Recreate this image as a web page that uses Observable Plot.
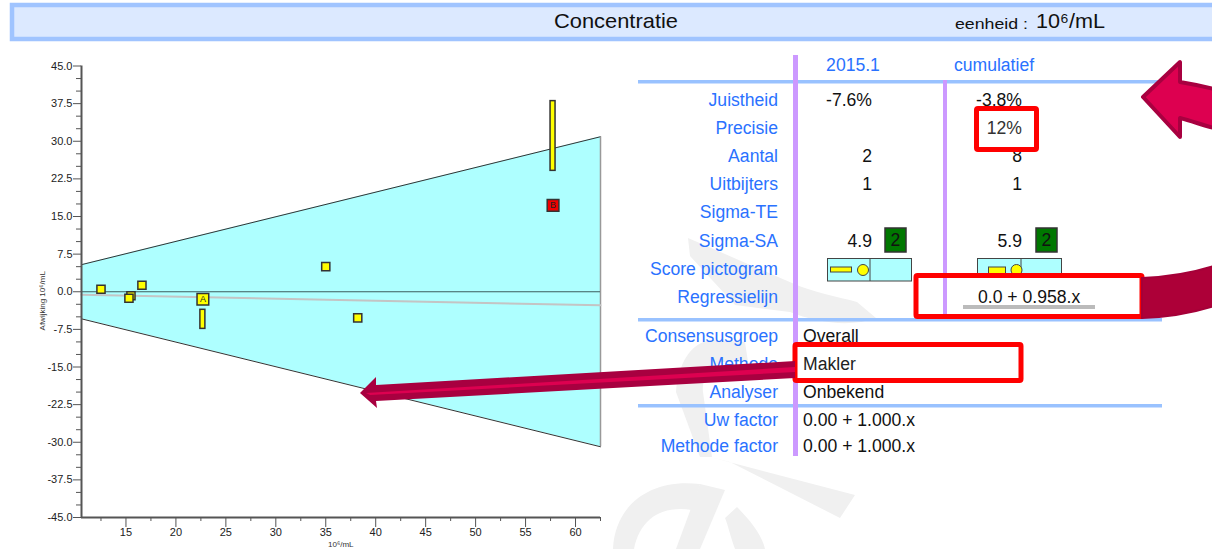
<!DOCTYPE html>
<html><head><meta charset="utf-8">
<style>html,body{margin:0;padding:0;background:#fff;overflow:hidden}</style>
<script src="https://cdn.jsdelivr.net/npm/d3@7"></script>
<script src="https://cdn.jsdelivr.net/npm/@observablehq/plot@0.6"></script>
</head><body><div id="chart"></div>
<script>
// ---- chart data ----
const bandX = [10.55, 62.5];
const bandUpper = [5.4, 30.9];
const bandLower = [-5.4, -30.9];
const regrY = [-0.6, -2.7];
const pointX = [12.5, 15.5, 15.3, 16.6, 35, 38.2];
const pointY = [0.5, -0.8, -1.3, 1.3, 5, -5.2];
const barX = [22.7, 57.75];
const barLow = [-7.4, 24.1];
const barHigh = [-3.6, 38];
const labelled = ["A", "B"];
const labelledX = [22.7, 57.75];
const labelledY = [-1.5, 17.2];
const labelledFill = ["#ffff00", "#f00000"];
const yMajor = [-45, -37.5, -30, -22.5, -15, -7.5, 0, 7.5, 15, 22.5, 30, 37.5, 45];
const yMinor = [-42.5,-40,-35,-32.5,-27.5,-25,-20,-17.5,-12.5,-10,-5,-2.5,2.5,5,10,12.5,17.5,20,25,27.5,32.5,35,40,42.5];
const xMajor = [15, 20, 25, 30, 35, 40, 45, 50, 55, 60];
const xMinor = [12.5, 17.5, 22.5, 27.5, 32.5, 37.5, 42.5, 47.5, 52.5, 57.5, 62.5];
// ---- table data ----
const rowLabels = ["Juistheid","Precisie","Aantal","Uitbijters","Sigma-TE","Sigma-SA","Score pictogram","Regressielijn","Consensusgroep","Methode","Analyser","Uw factor","Methode factor"];
const colPeriod = ["-7.6%","","2","1","","4.9","","",];
const colCumul  = ["-3.8%","12%","8","1","","5.9","","0.0 + 0.958.x"];
const colInfo   = ["Overall","Makler","Onbekend","0.00 + 1.000.x","0.00 + 1.000.x"];
const headers = ["2015.1","cumulatief"];
const sigmaScore = ["2","2"];

const band = bandX.map((x,i)=>({x, hi:bandUpper[i], lo:bandLower[i], r:regrY[i]}));
const pts = pointX.map((x,i)=>({x, y:pointY[i]}));
const bars = barX.map((x,i)=>({x, lo:barLow[i], hi:barHigh[i]}));
const labs = labelled.map((t,i)=>({t, x:labelledX[i], y:labelledY[i], f:labelledFill[i]}));
const ink = "#333", axis = "#555";

const plot = Plot.plot({
  width:1212, height:549, marginLeft:81, marginRight:612, marginTop:65.5, marginBottom:32,
  style:{fontFamily:"'Liberation Sans',Arial,sans-serif", background:"transparent"},
  x:{domain:[bandX[0],62.5]}, y:{domain:[-45,45]},
  marks:[
    Plot.areaY(band,{x:"x",y1:"lo",y2:"hi",fill:"#aeffff"}),
    Plot.line(band,{x:"x",y:"hi",stroke:ink,strokeWidth:1}),
    Plot.line(band,{x:"x",y:"lo",stroke:ink,strokeWidth:1}),
    Plot.ruleX([bandX[1]],{y1:bandLower[1],y2:bandUpper[1],stroke:"#999",strokeWidth:1.5}),
    Plot.ruleY([0],{stroke:"#3c5c5c",strokeWidth:1}),
    Plot.line(band,{x:"x",y:"r",stroke:"#c4c4c4",strokeWidth:2}),
    Plot.axisY({ticks:yMinor,tickSize:5,tickFormat:()=>"",label:null,stroke:axis}),
    Plot.axisY({ticks:yMajor,tickSize:8,tickPadding:1,tickFormat:d=>d.toFixed(1),label:null,stroke:axis,fontSize:11,fill:"#222",letterSpacing:-0.7}),
    Plot.axisX({ticks:xMinor,tickSize:4,tickFormat:()=>"",label:null,stroke:axis}),
    Plot.axisX({ticks:xMajor,tickSize:10,tickPadding:1,tickFormat:d=>String(d),label:null,stroke:axis,fontSize:11,fill:"#222",letterSpacing:-0.5}),
    Plot.ruleX([bandX[0]],{stroke:axis,strokeWidth:2}),
    Plot.ruleY([-45],{stroke:axis,strokeWidth:2}),
    Plot.text(["Afwijking 10⁶/mL"],{x:bandX[0],y:-1.8,dx:-39.5,rotate:-90,fontSize:8,fill:"#333"}),
    Plot.text(["10⁶/mL"],{x:36.5,y:-45,dy:26.5,fontSize:8,fill:"#333"}),
    Plot.rect(bars,{x1:d=>d.x-0.25,x2:d=>d.x+0.25,y1:"lo",y2:"hi",fill:"#ffff00",stroke:ink,strokeWidth:1.5}),
    Plot.dot(pts,{x:"x",y:"y",symbol:"square",r:4.6,fill:"#ffff00",stroke:ink,strokeWidth:1.5}),
    Plot.dot(labs,{x:"x",y:"y",symbol:"square",r:6.6,fill:"f",stroke:ink,strokeWidth:1.5}),
    Plot.text(labs,{x:"x",y:"y",text:"t",fontSize:9,fill:"#222"})
  ]
});
document.getElementById("chart").appendChild(plot);

// ---- page furniture around the chart ----
const svg = d3.select(plot);
const F = "'Liberation Sans',Arial,sans-serif";
// faint watermark behind everything
const wm = svg.insert("g",":first-child").attr("fill","#f0f0f0");
[
 "M688,238 L792,283 C815,293 835,296 857,302 L876,318 C850,328 815,322 790,312 L735,305 L690,256 Z",
 "M676,392 C678,365 690,342 712,340 L745,342 L748,362 L722,362 C708,366 702,380 703,392 L712,457 L700,457 Z",
 "M710,457 L855,495 L840,518 L730,462 Z",
 "M613,549 C615,505 650,478 700,484 L692,510 C660,505 640,520 634,549 Z",
 "M700,484 L725,490 L700,549 L676,549 Z",
 "M737,507 C750,520 762,535 765,549 L735,549 C730,535 728,525 725,518 Z"
].forEach(d=>wm.append("path").attr("d",d));

const g = svg.append("g").attr("font-family",F);
function rect(x,y,w,h,fill,extra={}){const r=g.append("rect").attr("x",x).attr("y",y).attr("width",w).attr("height",h).attr("fill",fill);for(const k in extra)r.attr(k,extra[k]);return r;}
function text(x,y,s,opt={}){const t=g.append("text").attr("x",x).attr("y",y).attr("font-size",opt.size||17.6).attr("fill",opt.fill||"#111").attr("text-anchor",opt.anchor||"start").text(s);if(opt.len)t.attr("textLength",opt.len).attr("lengthAdjust","spacingAndGlyphs");return t;}

// header
rect(12,5,1210,34,"#dce9ff",{stroke:"#a0c4ff","stroke-width":4.5});
text(616,28,"Concentratie",{size:21,anchor:"middle",len:124});
text(955,29,"eenheid :",{size:15,len:73});
text(1036,28,"10⁶/mL",{size:21,len:69});

const blue="#2a72ff", lilac="#cc99ff", rule="#99c2ff";
const rowY=[106,134,162,190,218,247,275,303,342,370,398,426,452];
// rules
rect(638,80,522,3.5,rule); rect(638,318,524,3.5,rule); rect(638,404,524,3.5,rule);
rect(793,55,5,401,lilac);
rect(943,80,4,238,lilac);
// headers
text(853,71,headers[0],{fill:blue,anchor:"middle"});
text(994,71,headers[1],{fill:blue,anchor:"middle"});
// labels and values
rowLabels.forEach((s,i)=>text(778,rowY[i],s,{fill:blue,anchor:"end"}));
colPeriod.forEach((s,i)=>{if(s)text(872,rowY[i],s,{anchor:"end"});});
colCumul.forEach((s,i)=>{if(s&&i<7&&i!=1)text(1022,rowY[i],s,{anchor:"end"});});
colInfo.forEach((s,i)=>{if(i!=1)text(803,rowY[8+i],s);});
// sigma boxes
[[885,0],[1036,1]].forEach(([x,i])=>{rect(x,228,21,24,"#007700",{stroke:"#333","stroke-width":1.5});text(x+10.5,246,sigmaScore[i],{anchor:"middle",fill:"#111"});});
// pictograms
function picto(x,w,div,bx,bw,by,bh,cx){
  rect(x,258.5,w,22.5,"#aeffff",{stroke:"#444","stroke-width":1});
  g.append("line").attr("x1",div).attr("x2",div).attr("y1",258.5).attr("y2",281).attr("stroke","#444");
  rect(bx,by,bw,bh,"#ffff00",{stroke:"#444","stroke-width":1});
  g.append("circle").attr("cx",cx).attr("cy",270).attr("r",5.5).attr("fill","#ffff00").attr("stroke","#444");
}
picto(827.5,84,870,830.5,21,267,5,863);
picto(977.5,84,1021,988.5,17,267,10,1016.5);
// red call-out boxes
const red="#ff0000";
rect(976.5,108.5,60,41,"#fff",{stroke:red,"stroke-width":5,rx:1.5});
text(1022,134,colCumul[1],{anchor:"end",fill:"#333"});
rect(916,275.5,226,41,"#fff",{stroke:red,"stroke-width":5,rx:1.5});
rect(943,278,4,36,lilac);
rect(963,305,132,4,"#bbb");
text(978,303,colCumul[7]);
rect(795,344.5,226,36,"#fff",{stroke:red,"stroke-width":5,rx:1.5});
text(803,370,colInfo[1],{fill:"#222"});
// arrows
const dark="#a80040", hot="#dd0050";
g.append("path").attr("d","M1143,97 L1180,62 L1180,82 C1192,84 1202,86 1214,89 L1214,128 C1202,125 1192,121 1180,118 L1180,137 Z")
  .attr("fill",hot).attr("stroke",dark).attr("stroke-width",4).attr("stroke-linejoin","round");
g.append("path").attr("d","M1142,278 C1170,277 1192,273 1214,266 L1214,306 C1192,313 1170,317 1142,318 Z")
  .attr("fill","#ad0038").attr("stroke","#a50038").attr("stroke-width",2);
g.append("path").attr("d","M360,393 L376,377 L376,385 L795,361 L795,378 L376,401 L377,408 Z")
  .attr("fill",dark);
g.append("path").attr("d","M366,393 L795,367 L795,372 L370,395 Z").attr("fill",hot);
</script></body></html>
